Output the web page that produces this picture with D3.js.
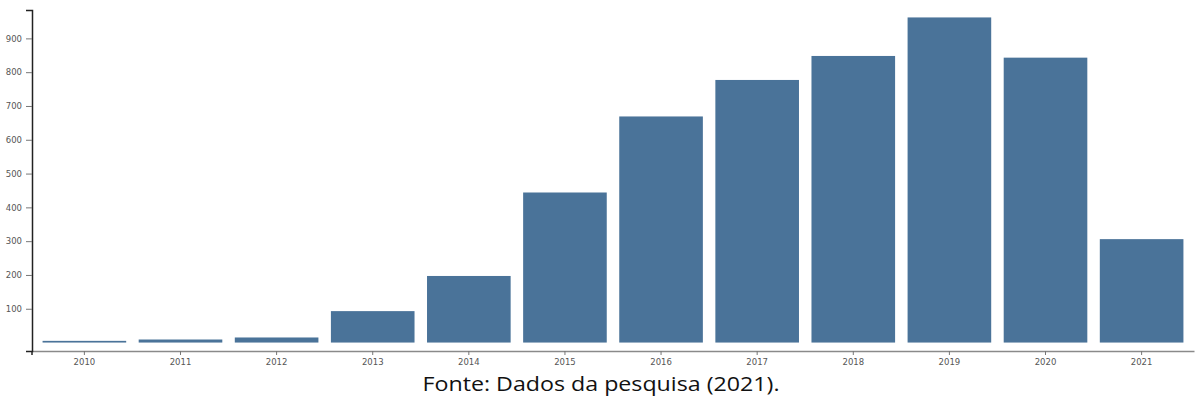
<!DOCTYPE html>
<html>
<head>
<meta charset="utf-8">
<script src="https://cdn.jsdelivr.net/npm/d3@7"></script>
<style>
  html, body { margin: 0; padding: 0; background: #fff; }
  svg { display: block; }
  .tick text { font-family: "DejaVu Sans", sans-serif; font-size: 8.5px; fill: #555; }
  .caption { font-family: "Open Sans", sans-serif; font-size: 20px; fill: #111; }
</style>
</head>
<body>
<script>
// values
var years = ['2010', '2011', '2012', '2013', '2014', '2015', '2016', '2017', '2018', '2019', '2020', '2021']
var counts = [5, 9, 15, 93, 197, 444, 669, 777, 848, 962, 843, 306]
var yTicks = [100, 200, 300, 400, 500, 600, 700, 800, 900]
var caption = 'Fonte: Dados da pesquisa (2021).'

var width = 1196
var height = 401
var left = 32
var axisY = 351

var svg = d3.select('body').append('svg')
    .attr('width', width)
    .attr('height', height)

var x = d3.scaleBand()
    .domain(years)
    .range([left, 1194])
    .paddingInner(0.13)
    .paddingOuter(0.11)

var y = d3.scaleLinear()
    .domain([-25, 984])
    .range([axisY, 10])

// bars
svg.append('g')
    .selectAll('rect')
    .data(counts)
    .enter().append('rect')
    .attr('x', function(d, i) { return x(years[i]) })
    .attr('width', x.bandwidth())
    .attr('y', function(d) { return y(d) })
    .attr('height', function(d) { return y(0) - y(d) })
    .attr('fill', '#4a7399')

// x axis
var gx = svg.append('g')
    .attr('transform', 'translate(0,' + axisY + ')')
    .call(d3.axisBottom(x).tickSize(4).tickSizeOuter(0).tickPadding(4))
gx.select('.domain').attr('stroke', '#8a8a8a').attr('stroke-width', 1.5)
gx.selectAll('.tick line').attr('stroke', '#777')

// y axis
var gy = svg.append('g')
    .attr('transform', 'translate(' + left + ',0)')
    .call(d3.axisLeft(y).tickValues(yTicks).tickSize(6).tickSizeOuter(6).tickPadding(4))
gy.select('.domain').attr('stroke', '#222').attr('stroke-width', 1.5)
gy.selectAll('.tick line').attr('stroke', '#777')

// left tick under the x axis
svg.append('line')
    .attr('x1', left).attr('x2', left)
    .attr('y1', axisY).attr('y2', axisY + 4)
    .attr('stroke', '#222').attr('stroke-width', 1.5)

svg.append('text')
    .attr('class', 'caption')
    .attr('x', 601)
    .attr('y', 391)
    .attr('text-anchor', 'middle')
    .attr('textLength', 357)
    .attr('lengthAdjust', 'spacingAndGlyphs')
    .text(caption)
</script>
</body>
</html>
